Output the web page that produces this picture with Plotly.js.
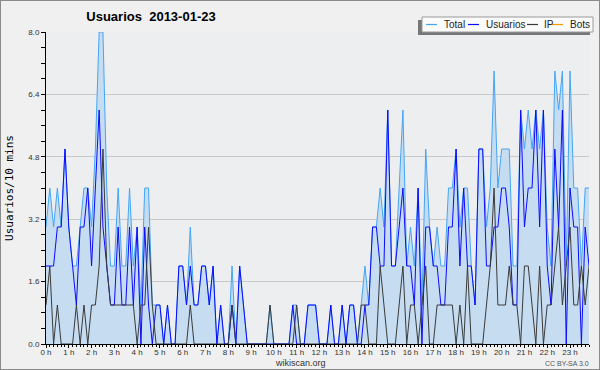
<!DOCTYPE html>
<html><head><meta charset="utf-8">
<script src="https://cdn.plot.ly/plotly-3.0.1.min.js"></script>
<style>
html,body{margin:0;padding:0;background:#f0f0f0;}
#wrap{position:relative;width:600px;height:370px;}
#chart{width:600px;height:370px;}
#frame{position:absolute;left:0;top:0;width:598px;height:368px;border:1px solid #8a8a8a;pointer-events:none;}
</style></head><body>
<div id="wrap"><div id="chart"></div><div id="frame"></div></div>
<script>
// values per 10-minute slot, 00:00 .. 23:50
const total = [
3,4,3,4,3,5,3,2,2,3,
4,4,3,5,8,8,4,2,2,4,
2,2,4,2,3,1,4,4,1,1,
1,0,1,0,0,2,2,1,3,1,
1,2,2,1,2,0,1,0,0,2,
0,2,1,0,0,0,0,0,0,1,
0,0,0,0,0,1,1,0,0,1,
1,1,0,0,0,1,0,0,1,0,
1,1,0,1,2,1,3,3,4,3,
6,2,2,4,6,2,3,2,4,1,
5,3,2,3,2,2,4,4,5,3,
4,4,2,1,5,5,3,4,7,4,
5,5,5,2,2,6,5,6,5,6,
5,6,3,2,7,6,7,2,7,4,
4,2,4,4];
const usuarios = [
2,2,2,3,3,5,3,2,1,3,
3,4,2,4,6,3,2,1,1,3,
1,1,3,1,3,0,3,1,0,1,
1,0,1,0,0,2,2,1,2,1,
1,2,2,1,2,0,1,0,0,1,
0,2,1,0,0,0,0,0,0,0,
0,0,0,0,0,1,0,0,0,1,
1,1,0,0,0,1,0,0,1,0,
1,1,0,0,1,1,3,3,2,2,
6,2,2,3,4,2,2,1,4,0,
3,3,2,2,1,1,3,3,5,2,
4,2,2,1,5,5,2,2,3,3,
4,4,3,1,1,6,3,4,4,6,
3,6,2,1,5,3,6,0,4,3,
3,0,3,2];
const ip = [
1,2,0,1,0,0,0,0,1,0,
1,0,1,1,2,5,2,1,1,1,
1,1,1,1,0,1,1,3,1,0,
0,0,0,0,0,0,0,0,1,0,
0,0,0,0,0,0,0,0,0,1,
0,0,0,0,0,0,0,0,0,1,
0,0,0,0,0,0,1,0,0,0,
0,0,0,0,0,0,0,0,0,0,
0,0,0,1,1,0,0,0,2,1,
0,0,0,1,2,0,1,1,0,1,
2,0,0,1,1,1,1,1,0,1,
0,2,0,0,0,0,1,2,4,1,
1,1,2,1,1,0,2,2,1,0,
2,0,1,1,2,3,1,2,3,1,
1,2,1,2];
const seriesNames = ['Total','Usuarios','IP','Bots'];
const seriesColors = ['#45a5f5','#0a0aff','#3a3a3a','#ff9900'];
const titleText = 'Usuarios\u00a0 2013-01-23';
const yTitle = 'Usuarios/10 mins';

const slots = total.map((_, i) => i / 6);   // hours
const FONT = '"Liberation Sans", Arial, sans-serif';

// pixel helpers for decorations (plot area 46..589 x 32..344)
const L = 46, R = 589, T = 32, B = 344;
const px = x => (x - L) / (R - L);
const py = y => (B - y) / (B - T);

const traces = [
  {x: slots, y: total, type: 'scatter', mode: 'lines', name: seriesNames[0],
   line: {color: seriesColors[0], width: 1}, fill: 'tozeroy', fillcolor: '#c6dcf1'},
  {x: slots, y: usuarios, type: 'scatter', mode: 'lines', name: seriesNames[1],
   line: {color: seriesColors[1], width: 1}},
  {x: slots, y: ip, type: 'scatter', mode: 'lines', name: seriesNames[2],
   line: {color: seriesColors[2], width: 1}}
];

// manual legend
const legItems = [
  {lx: 426, tx: 442}, {lx: 468, tx: 484}, {lx: 527, tx: 542}, {lx: 552, tx: 568}
];
const shapes = [
  {type:'rect', xref:'paper', yref:'paper', x0:px(418), x1:px(590), y0:py(35), y1:py(20),
   fillcolor:'#777', line:{width:0}, layer:'above'},
  {type:'rect', xref:'paper', yref:'paper', x0:px(422), x1:px(593), y0:py(32), y1:py(17),
   fillcolor:'#fbfbfb', line:{color:'#9a9a9a', width:1}, layer:'above'}
];
const annotations = [
  {text:'wikiscan.org', xref:'paper', yref:'paper', x:px(300), y:py(363), showarrow:false,
   xanchor:'center', yanchor:'middle', font:{family:FONT, size:9, color:'#333'}},
  {text:'CC BY-SA 3.0', xref:'paper', yref:'paper', x:px(591), y:py(363), showarrow:false,
   xanchor:'right', yanchor:'middle', font:{family:FONT, size:7, color:'#555'}}
];
legItems.forEach((it, k) => {
  shapes.push({type:'line', xref:'paper', yref:'paper', x0:px(it.lx), x1:px(it.lx + 11),
    y0:py(24.5), y1:py(24.5), line:{color:seriesColors[k], width:1.2}, layer:'above'});
  annotations.push({text:seriesNames[k], xref:'paper', yref:'paper', x:px(it.tx), y:py(24.5),
    showarrow:false, xanchor:'left', yanchor:'middle', font:{family:FONT, size:10, color:'#222'}});
});

const axisFont = {family: FONT, size: 8, color: '#333'};
const layout = {
  width: 600, height: 370,
  paper_bgcolor: '#f0f0f0', plot_bgcolor: '#edeef0',
  margin: {l: L, r: 600 - R, t: T, b: 370 - B, pad: 0},
  showlegend: false,
  title: {text: '<b>' + titleText + '</b>', x: 151/600, xref: 'container', xanchor: 'center',
          y: 1 - 16/370, yref: 'container', yanchor: 'middle',
          font: {family: FONT, size: 13, color: '#000'}},
  xaxis: {range: [0, 143/6], tickmode: 'linear', tick0: 0, dtick: 1, ticksuffix: ' h',
          showgrid: false, zeroline: false, showline: true, linecolor: '#000', linewidth: 1,
          ticks: 'outside', ticklen: 3, tickcolor: '#000', tickfont: axisFont,
          ticklabelstandoff: -3,
          minor: {dtick: 1/6, tick0: 0, ticks: 'outside', ticklen: 2, tickcolor: '#000', showgrid: false},
          fixedrange: true},
  yaxis: {range: [0, 8], tickmode: 'linear', tick0: 0, dtick: 1.6, tickformat: '.1f',
          showgrid: true, gridcolor: '#c9c9c9', gridwidth: 1, zeroline: false,
          showline: true, linecolor: '#000', linewidth: 1,
          ticks: 'outside', ticklen: 4, tickcolor: '#000', tickfont: axisFont,
          minor: {dtick: 0.4, tick0: 0, ticks: 'outside', ticklen: 4, tickcolor: '#000', showgrid: false},
          title: {text: yTitle, standoff: 12, font: {family: '"DejaVu Sans Mono", monospace', size: 11, color: '#000'}},
          fixedrange: true},
  shapes: shapes,
  annotations: annotations
};
Plotly.newPlot('chart', traces, layout, {displayModeBar: false, staticPlot: true});
</script>
</body></html>
